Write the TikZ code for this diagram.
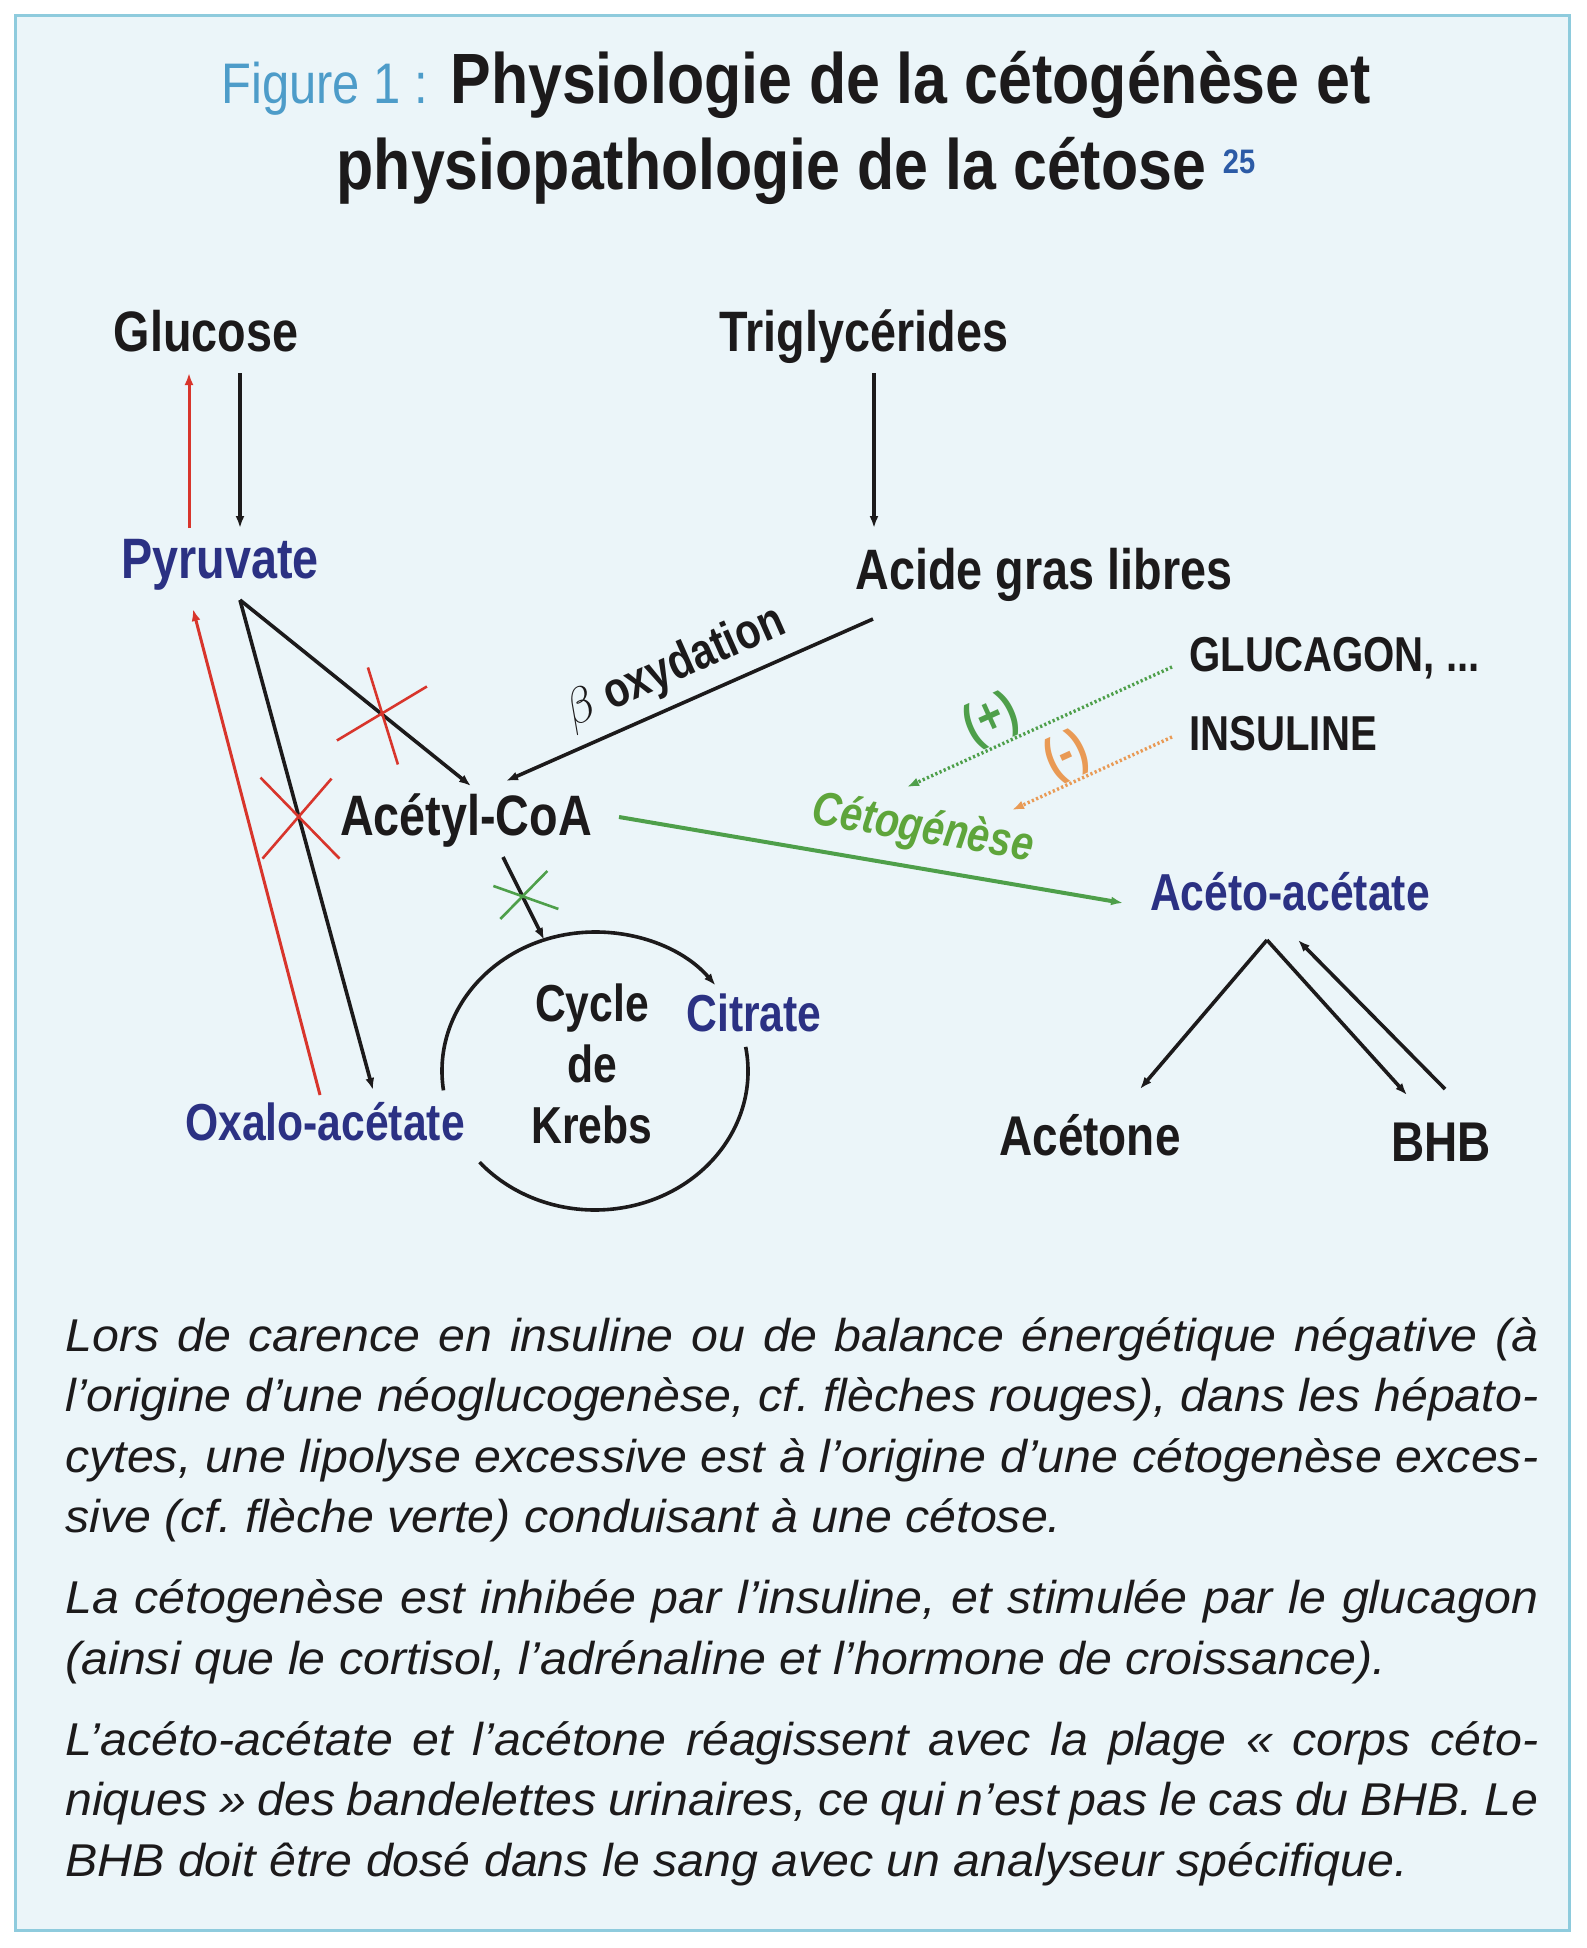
\documentclass[tikz,border=0pt]{standalone}
\usepackage{fontspec}
\setmainfont{Liberation Sans}
\newfontfamily\headfont{Liberation Sans}[FakeStretch=0.855]
\newfontfamily\labfont{Liberation Sans}[FakeStretch=0.82]
\newfontfamily\notefont{Liberation Sans}[FakeStretch=1.05]
\usepackage{xcolor}
\usetikzlibrary{arrows.meta,calc,positioning}

\definecolor{FrameBlue}{HTML}{8ECBDD}
\definecolor{PaleBlue}{HTML}{EBF5F9}
\definecolor{FigBlue}{HTML}{4D9CC9}
\definecolor{RefBlue}{HTML}{2C5BA6}
\definecolor{MetaNavy}{HTML}{2B3183}
\definecolor{Ink}{HTML}{1C1A1B}
\definecolor{PathRed}{HTML}{D8352C}
\definecolor{PathGreen}{HTML}{4E9F4A}
\definecolor{KetoGreen}{HTML}{5EA53B}
\definecolor{PathOrange}{HTML}{E99A55}

\begin{document}
\begin{tikzpicture}[x=0.5pt, y=0.5pt, >={Latex[length=6pt,width=4.5pt]},
    mol/.style={inner sep=0pt, text=Ink, font=\labfont\bfseries\fontsize{28.5}{30}\selectfont},
    key/.style={mol, text=MetaNavy},
    smallkey/.style={key, font=\labfont\bfseries\fontsize{26}{30.5}\selectfont},
    ketone/.style={mol, font=\labfont\bfseries\fontsize{28}{30}\selectfont},
    hormone/.style={mol, font=\labfont\bfseries\fontsize{24.5}{26}\selectfont},
    route/.style={->, draw=Ink, line width=1.8pt},
    gluco/.style={->, draw=PathRed, line width=1.5pt},
    block/.style={draw=PathRed, line width=1.3pt},
    keto/.style={->, draw=PathGreen, line width=2pt},
    signal/.style={->, line width=1.7pt, dash pattern=on 1.1pt off 1.2pt},
    tag/.style={inner sep=1pt, font=\labfont\bfseries\fontsize{26}{26}\selectfont}]

    \useasboundingbox (0,0) rectangle (1586,-1948);
    \draw[FrameBlue, fill=PaleBlue, line width=1.5pt] (15,-16) rectangle (1569,-1930);

    \node[anchor=base, align=center, inner sep=0pt, text=Ink, font=\headfont\bfseries\fontsize{35.6}{43}\selectfont] (title) at (796,-189)
        {{\mdseries\fontsize{28.6}{43}\selectfont\color{FigBlue}Figure 1 :} Physiologie de la cétogénèse et\\
         physiopathologie de la cétose \raisebox{8pt}{\fontsize{17}{17}\selectfont\color{RefBlue}25}};

    \node[mol, anchor=base] (glucose) at (206,-351) {Glucose};
    \node[mol, anchor=base] (trigly) at (864,-351) {Triglycérides};
    \node[key, anchor=base] (pyruvate) at (220,-578) {Pyruvate};
    \node[mol, anchor=base] (agl) at (1044,-589) {Acide gras libres};
    \node[mol, anchor=base] (acetylcoa) at (466,-835) {Acétyl-CoA};
    \node[smallkey, anchor=base] (acetoac) at (1290,-910) {Acéto-acétate};
    \node[hormone, anchor=base west] (glucagon) at (1189,-671) {GLUCAGON, ...};
    \node[hormone, anchor=base west] (insuline) at (1189,-750) {INSULINE};
    \node[smallkey, text=Ink, align=center, anchor=base] (krebs) at (592,-1143) {Cycle\\de\\Krebs};
    \node[smallkey, anchor=base] (citrate) at (754,-1031) {Citrate};
    \node[smallkey, anchor=base] (oxalo) at (325,-1140) {Oxalo-acétate};
    \node[ketone, anchor=base] (acetone) at (1090,-1155) {Acétone};
    \node[ketone, anchor=base] (bhb) at (1441,-1161) {BHB};

    \coordinate (tca) at ($(krebs.base)+(3,72)$);
    \coordinate (plusend) at (907,-787);
    \coordinate (minusend) at (1012,-810);

    \draw[gluco] ($(pyruvate.base)+(-31,50)$) -- ($(glucose.base)+(-17,-22)$);
    \draw[route] ($(glucose.base)+(34,-22)$) -- ($(pyruvate.base)+(20,50)$);
    \draw[route] ($(trigly.base)+(10,-22)$) -- ($(agl.base)+(-170,61)$);
    \draw[route] ($(agl.base)+(-171,-30)$) -- node[sloped, above=3pt, inner sep=2pt, text=Ink, font=\labfont\bfseries\fontsize{25}{26}\selectfont] (beta) {$\beta$ oxydation} ($(acetylcoa.base)+(40,54)$);
    \draw[route] ($(pyruvate.base)+(20,-22)$) -- coordinate[pos=0.61] (cut1) ($(acetylcoa.base)+(5,49)$);
    \draw[route] ($(pyruvate.base)+(20,-22)$) -- coordinate[pos=0.44] (cut2) ($(oxalo.base)+(48,50)$);
    \draw[gluco] ($(oxalo.base)+(-5,45)$) -- ($(pyruvate.base)+(-27,-31)$);

    \draw[block] ($(cut1)+(-13,46)$) -- ($(cut1)+(17,-51)$) ($(cut1)+(-44,-27)$) -- ($(cut1)+(46,27)$);
    \draw[block] ($(cut2)+(-38,38)$) -- ($(cut2)+(41,-43)$) ($(cut2)+(-36,-43)$) -- ($(cut2)+(33,37)$);

    \draw[keto] ($(acetylcoa.base)+(153,18)$) -- node[pos=0.59, sloped, above=5pt, inner sep=2pt, text=KetoGreen, font=\labfont\bfseries\itshape\fontsize{24}{26}\selectfont] (ketolabel) {Cétogénèse} ($(acetoac.base)+(-167,7)$);
    \draw[signal, PathGreen] ($(glucagon.base west)+(-17,4)$) -- node[tag, pos=0.64, sloped, above=-1pt, text=PathGreen] (plus) {(+)} (plusend);
    \draw[signal, PathOrange] ($(insuline.base west)+(-17,13)$) -- node[tag, pos=0.59, sloped, above=-1pt, text=PathOrange] (minus) {(-)} (minusend);

    \draw[route] ($(acetylcoa.base)+(37,-22)$) -- coordinate[pos=0.47] (cut3) ($(tca)+(109.4:153 and 139)$);
    \draw[block, PathGreen] ($(cut3)+(-29,10)$) -- ($(cut3)+(36,-13)$) ($(cut3)+(25,25)$) -- ($(cut3)+(-22,-23)$);
    \draw[route] ($(tca)+(188:153 and 139)$) arc[start angle=188, end angle=38, x radius=153, y radius=139];
    \draw[Ink, line width=1.8pt] ($(tca)+(10:153 and 139)$) arc[start angle=10, end angle=-139, x radius=153, y radius=139];

    \draw[route] ($(acetoac.base)+(-23,-30)$) -- ($(acetone.base)+(50,66)$);
    \draw[route] ($(acetoac.base)+(-23,-30)$) -- ($(bhb.base)+(-34,66)$);
    \draw[route] ($(bhb.base)+(4,72)$) -- ($(acetoac.base)+(8,-30)$);

    \node[anchor=base west, text width=736.5pt, align=justify, inner sep=0pt, text=Ink, font=\notefont\itshape\fontsize{23}{30.25}\selectfont] (notes) at (65,-1351)
        {\setlength{\parskip}{10.25pt}\tolerance=10000\hyphenpenalty=10000\frenchspacing
         Lors de carence en insuline ou de balance énergétique négative (à\linebreak
         l’origine d’une néoglucogenèse, cf. flèches rouges), dans les hépato-\linebreak
         cytes, une lipolyse excessive est à l’origine d’une cétogenèse exces-\linebreak
         sive (cf. flèche verte) conduisant à une cétose.\par
         La cétogenèse est inhibée par l’insuline, et stimulée par le glucagon\linebreak
         (ainsi que le cortisol, l’adrénaline et l’hormone de croissance).\par
         L’acéto-acétate et l’acétone réagissent avec la plage «~corps céto-\linebreak
         niques~» des bandelettes urinaires, ce qui n’est pas le cas du BHB. Le\linebreak
         BHB doit être dosé dans le sang avec un analyseur spécifique.};
\end{tikzpicture}
\end{document}
